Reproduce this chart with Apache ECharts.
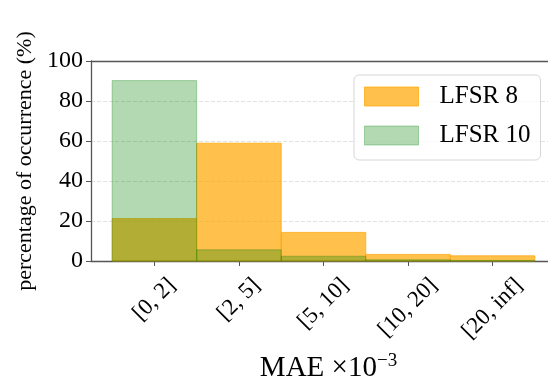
<!DOCTYPE html>
<html>
<head>
<meta charset="utf-8">
<script src="https://cdn.jsdelivr.net/npm/echarts@6/dist/echarts.min.js"></script>
<style>
  html, body { margin: 0; padding: 0; background: #fff; }
  #chart { width: 548px; height: 383px; }
</style>
</head>
<body>
<div id="chart"></div>
<script>
// MAE bins (x categories)
const bins = ['[0, 2]', '[2, 5]', '[5, 10]', '[10, 20]', '[20, inf]'];
// percentage of occurrence per bin
const lfsr8 = [21.2, 58.9, 14.3, 3.3, 2.6];
const lfsr10 = [90.2, 5.6, 2.4, 0.6, 0.3];
const yTicks = [0, 20, 40, 60, 80, 100];

const FONT = 'Liberation Serif';
const SPINE = '#555555';
const TICK_FONT_SIZE = 23;

const ORANGE_FILL = 'rgba(255,165,0,0.7)';
const ORANGE_EDGE = 'rgba(255,165,0,0.7)';
const GREEN_FILL = 'rgba(0,128,0,0.3)';
const GREEN_EDGE = 'rgba(0,128,0,0.3)';

// x range of the axes: one unit per bin plus a margin on both sides
const X_MIN = -0.75;
const X_MAX = 4.75;
const GRID = { left: 91, top: 61, width: 465, height: 200 };

// The 45° labels are anchored at their right end; move each anchor right by
// half of its rotated width so the label's bounding box is centred on its tick.
const measureCtx = document.createElement('canvas').getContext('2d');
measureCtx.font = TICK_FONT_SIZE + 'px "' + FONT + '"';
const pxPerUnit = GRID.width / (X_MAX - X_MIN);
const labelValues = bins.map(function (b, i) {
  const w = measureCtx.measureText(b).width;
  return i + (w * Math.SQRT1_2 / 2) / pxPerUnit;
});

function histSeries(name, values, fill, edge) {
  return {
    name: name,
    type: 'custom',
    data: values.map((v, i) => [i, v]),
    itemStyle: { color: fill, borderColor: edge, borderWidth: 1 },
    renderItem: function (params, api) {
      const i = api.value(0);
      const v = api.value(1);
      const tl = api.coord([i - 0.5, v]);
      const br = api.coord([i + 0.5, 0]);
      return {
        type: 'rect',
        shape: { x: tl[0], y: tl[1], width: br[0] - tl[0], height: br[1] - tl[1] },
        style: { fill: fill, stroke: edge, lineWidth: 1 }
      };
    }
  };
}

const chart = echarts.init(document.getElementById('chart'), null, { renderer: 'canvas' });

chart.setOption({
  animation: false,
  grid: { left: GRID.left, top: GRID.top, width: GRID.width, height: GRID.height, containLabel: false, outerBoundsMode: 'none' },
  legend: {
    left: 354,
    top: 75,
    orient: 'vertical',
    selectedMode: false,
    padding: [9, 10, 12, 10],
    itemGap: 14,
    itemWidth: 54,
    itemHeight: 19,
    backgroundColor: 'rgba(255,255,255,0.8)',
    borderColor: '#d6d6d6',
    borderWidth: 1,
    borderRadius: 5,
    textStyle: { fontFamily: FONT, fontSize: 25, color: '#000', padding: [0, 0, 0, 16] },
    data: [
      { name: 'LFSR 8', icon: 'rect', itemStyle: { color: ORANGE_FILL, borderColor: ORANGE_EDGE, borderWidth: 1 } },
      { name: 'LFSR 10', icon: 'rect', itemStyle: { color: GREEN_FILL, borderColor: GREEN_EDGE, borderWidth: 1 } }
    ]
  },
  xAxis: [
    {
      type: 'value',
      min: X_MIN,
      max: X_MAX,
      name: 'MAE ×10{sup|−3}',
      nameLocation: 'middle',
      nameGap: 91,
      nameTextStyle: {
        fontFamily: FONT, fontSize: 29, color: '#000',
        padding: [0, 0, 0, 10],
        rich: { sup: { fontFamily: FONT, fontSize: 19, verticalAlign: 'top', padding: [0, 0, 14, 0] } }
      },
      axisLine: { show: true, onZero: false, lineStyle: { color: SPINE, width: 1.3 } },
      axisTick: { show: true, length: 5, customValues: [0, 1, 2, 3, 4], lineStyle: { color: SPINE, width: 1 } },
      axisLabel: {
        customValues: labelValues,
        rotate: 45,
        margin: 21,
        fontFamily: FONT,
        fontSize: TICK_FONT_SIZE,
        color: '#000',
        formatter: function (v) { return bins[Math.round(v)]; }
      },
      splitLine: { show: false }
    },
    {
      type: 'value',
      min: X_MIN,
      max: X_MAX,
      position: 'top',
      axisLine: { show: true, onZero: false, lineStyle: { color: SPINE, width: 1.3 } },
      axisTick: { show: false },
      axisLabel: { show: false },
      splitLine: { show: false }
    }
  ],
  yAxis: {
    type: 'value',
    min: yTicks[0],
    max: yTicks[yTicks.length - 1],
    interval: 20,
    name: 'percentage of occurrence (%)',
    nameLocation: 'middle',
    nameGap: 52,
    nameTextStyle: { fontFamily: FONT, fontSize: 22, color: '#000' },
    axisLine: { show: true, onZero: false, lineStyle: { color: SPINE, width: 1.3 } },
    axisTick: { show: true, length: 5, lineStyle: { color: SPINE, width: 1 } },
    axisLabel: { fontFamily: FONT, fontSize: 24, color: '#000', margin: 8 },
    splitLine: { show: true, lineStyle: { color: '#d9d9d9', width: 0.8, type: [4, 2] } }
  },
  series: [
    histSeries('LFSR 8', lfsr8, ORANGE_FILL, ORANGE_EDGE),
    histSeries('LFSR 10', lfsr10, GREEN_FILL, GREEN_EDGE)
  ]
});
</script>
</body>
</html>
